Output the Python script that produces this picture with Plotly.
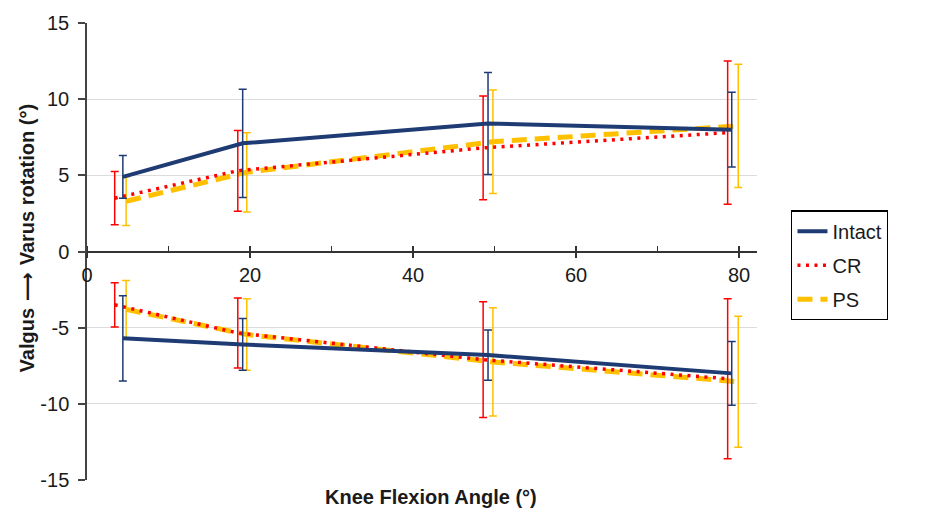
import plotly.graph_objects as go

series = ["Intact", "CR", "PS"]
colors = {"Intact": "#1F3B73", "CR": "#FF0000", "PS": "#FFC000"}

# knee flexion angle (deg) per series (slightly offset in the source chart)
x_intact = [4.4, 19.1, 49.2, 79.1]
x_cr = [3.4, 18.5, 48.6, 78.6]
x_ps = [4.8, 19.6, 49.8, 79.9]

# varus rotation (upper curves), mean and SD
varus_intact = [4.9, 7.1, 8.4, 8.0]
varus_intact_sd = [1.4, 3.55, 3.35, 2.45]
varus_cr = [3.5, 5.3, 6.8, 7.8]
varus_cr_sd = [1.75, 2.65, 3.4, 4.7]
varus_ps = [3.3, 5.2, 7.2, 8.25]
varus_ps_sd = [1.6, 2.6, 3.4, 4.05]

# valgus rotation (lower curves), mean and SD
valgus_intact = [-5.7, -6.1, -6.8, -8.0]
valgus_intact_sd = [2.8, 1.7, 1.65, 2.1]
valgus_cr = [-3.5, -5.35, -7.1, -8.35]
valgus_cr_sd = [1.45, 2.3, 3.8, 5.25]
valgus_ps = [-3.8, -5.45, -7.25, -8.55]
valgus_ps_sd = [1.9, 2.35, 3.55, 4.3]

x_ticks = [0, 20, 40, 60, 80]
y_ticks = [-15, -10, -5, 0, 5, 10, 15]
y_tick_labels = ["-15", "-10", "-5", "0", "5", "10", "15"]

data = {
    "Intact": (x_intact, varus_intact, varus_intact_sd, valgus_intact, valgus_intact_sd),
    "CR": (x_cr, varus_cr, varus_cr_sd, valgus_cr, valgus_cr_sd),
    "PS": (x_ps, varus_ps, varus_ps_sd, valgus_ps, valgus_ps_sd),
}
line_styles = {
    "Intact": dict(width=4, dash="solid"),
    "CR": dict(width=3.5, dash="3px,5.5px"),
    "PS": dict(width=5, dash="15px,8px"),
}
rank = {"Intact": 1, "CR": 2, "PS": 3}

fig = go.Figure()
for name in ["PS", "CR", "Intact"]:
    xs, up, up_sd, lo, lo_sd = data[name]
    c = colors[name]
    for i, (yy, sd) in enumerate([(up, up_sd), (lo, lo_sd)]):
        fig.add_trace(go.Scatter(
            x=xs, y=yy, mode="lines", name=name,
            legendgroup=name, showlegend=(i == 0), legendrank=rank[name],
            line=dict(color=c, **line_styles[name]),
            error_y=dict(type="data", array=sd, visible=True, color=c,
                         thickness=1.5, width=4),
        ))

# overlay axis for the upward half of the crossing major ticks
fig.add_trace(go.Scatter(x=[0], y=[0], xaxis="x2", mode="markers",
                         marker=dict(opacity=0), showlegend=False, hoverinfo="skip"))

font_family = "Liberation Sans, Arial, sans-serif"
fig.update_layout(
    width=925, height=513,
    margin=dict(l=87, r=168, t=20, b=33),
    paper_bgcolor="white", plot_bgcolor="white",
    font=dict(family=font_family, size=20, color="#1a1a1a"),
    showlegend=True,
    legend=dict(x=1.051, y=0.59, xanchor="left", yanchor="top",
                bordercolor="#000000", borderwidth=1.3,
                font=dict(size=20, color="#1a1a1a"),
                tracegroupgap=5, bgcolor="white", entrywidth=80),
    xaxis=dict(range=[0, 82.2], tickvals=x_ticks, anchor="free", position=0.5,
               showgrid=False, zeroline=False, showline=True, linecolor="#333333",
               linewidth=1.5, ticks="outside", ticklen=6, tickwidth=1.5,
               tickcolor="#333333",
               minor=dict(dtick=10, ticks="inside", ticklen=5, tickwidth=1.3,
                          tickcolor="#333333", showgrid=False),
               tickfont=dict(size=20)),
    xaxis2=dict(range=[0, 82.2], tickvals=x_ticks, overlaying="x", anchor="free",
                position=0.5, side="bottom", showgrid=False, zeroline=False,
                showline=False, ticks="inside", ticklen=6, tickwidth=1.5,
                tickcolor="#333333", showticklabels=False),
    yaxis=dict(range=[-15, 15], tickvals=y_ticks, ticktext=y_tick_labels,
               showgrid=True, gridcolor="#dcdcdc", gridwidth=1.2, zeroline=False,
               showline=True, linecolor="#444444", linewidth=1.5,
               ticks="outside", ticklen=7, tickwidth=1.5, tickcolor="#444444",
               ticklabelstandoff=5, tickfont=dict(size=20)),
)

fig.add_annotation(text="<b>Knee Flexion Angle (°)</b>", xref="paper", yref="paper",
                   x=0.513, y=-0.037, xanchor="center", yanchor="middle",
                   showarrow=False, font=dict(size=20, color="#1a1a1a"))
fig.add_annotation(
    text="<b>Valgus<span style='font-family:DejaVu Sans'> ⟶ </span>Varus rotation (°)</b>",
    xref="paper", yref="paper",
    x=-0.09, y=0.528, xanchor="center", yanchor="middle",
    textangle=-90, showarrow=False, font=dict(size=20, color="#1a1a1a"))

fig.write_html("out.html", config={"displayModeBar": False},
               post_script="document.body.style.margin='0';document.body.style.overflow='hidden';")
